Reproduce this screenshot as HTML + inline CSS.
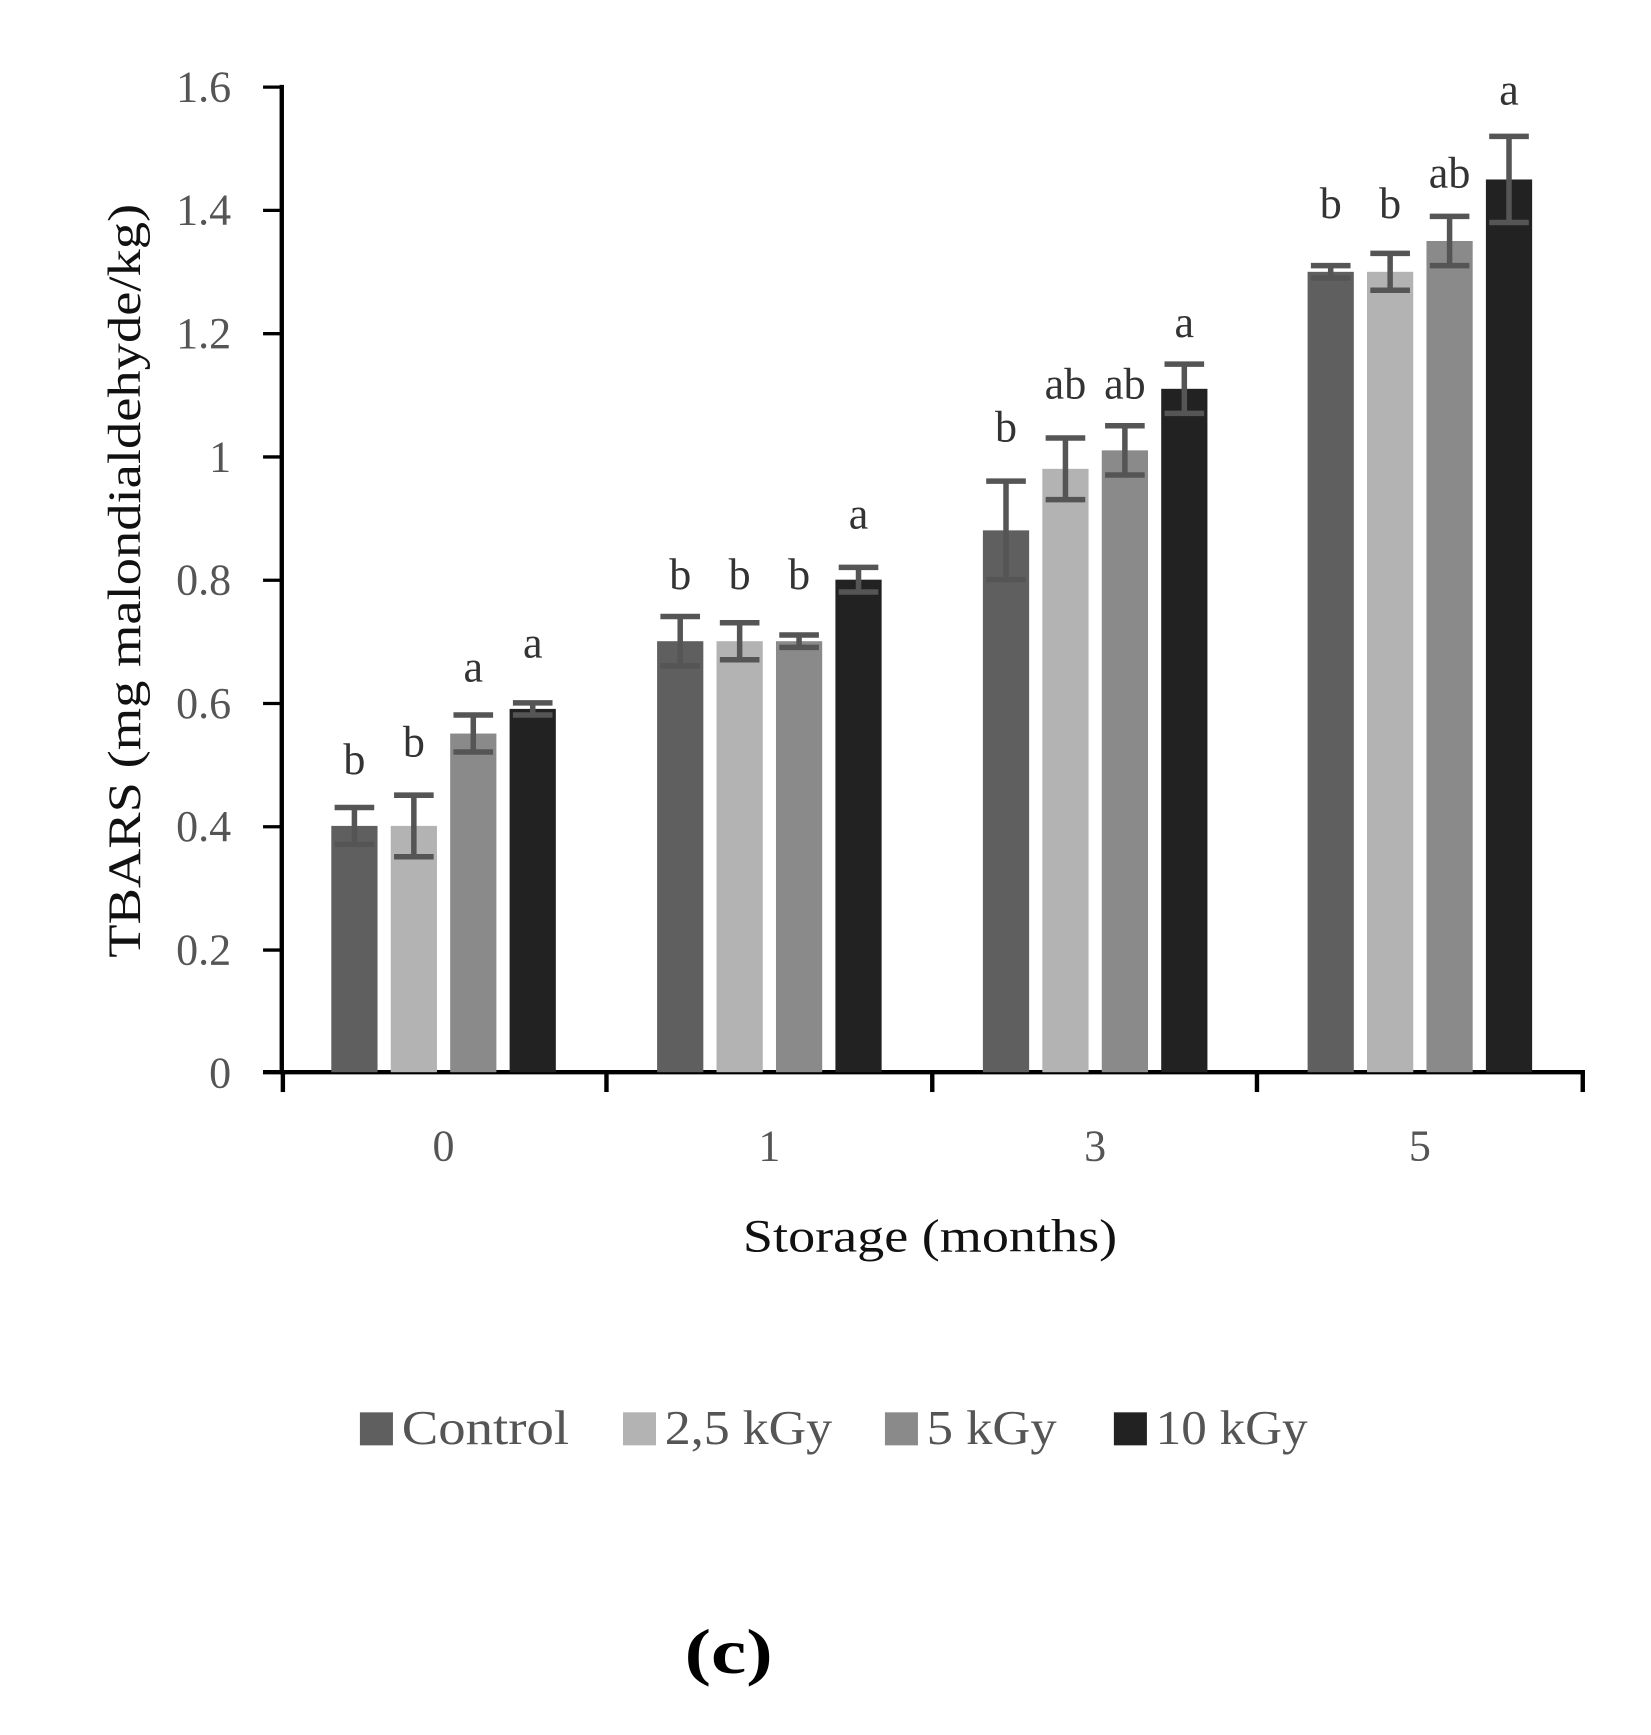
<!DOCTYPE html>
<html><head><style>html,body{margin:0;padding:0;background:#fff}svg{display:block}</style></head>
<body>
<svg width="1651" height="1735" viewBox="0 0 1500 1576" xmlns="http://www.w3.org/2000/svg" font-family="Liberation Serif, serif">
<g fill="#555" font-size="40" text-anchor="end">
<text x="210" y="988">0</text><text x="210" y="876">0.2</text><text x="210" y="764">0.4</text><text x="210" y="652">0.6</text><text x="210" y="540">0.8</text><text x="210" y="428">1</text><text x="210" y="316">1.2</text><text x="210" y="204">1.4</text><text x="210" y="92">1.6</text>
</g>
<g stroke="#000" stroke-width="4">
<line x1="256" y1="77" x2="256" y2="976"/>
<g stroke-width="3"><line x1="239" y1="79" x2="256" y2="79"/><line x1="239" y1="191" x2="256" y2="191"/><line x1="239" y1="303" x2="256" y2="303"/><line x1="239" y1="415" x2="256" y2="415"/><line x1="239" y1="527" x2="256" y2="527"/><line x1="239" y1="639" x2="256" y2="639"/><line x1="239" y1="751" x2="256" y2="751"/><line x1="239" y1="863" x2="256" y2="863"/><line x1="239" y1="974" x2="256" y2="974"/></g>
<line x1="239" y1="974" x2="1440" y2="974"/>
<line x1="257" y1="974" x2="257" y2="992"/><line x1="551" y1="974" x2="551" y2="992"/><line x1="847" y1="974" x2="847" y2="992"/><line x1="1142" y1="974" x2="1142" y2="992"/><line x1="1438" y1="974" x2="1438" y2="992"/>
</g>
<g>
<rect x="301" y="750.2" width="42" height="223.8" fill="#5f5f5f"/><rect x="355" y="750.2" width="42" height="223.8" fill="#b3b3b3"/><rect x="409" y="666.3" width="42" height="307.7" fill="#8a8a8a"/><rect x="463" y="643.9" width="42" height="330.1" fill="#222"/>
<rect x="597" y="582.4" width="42" height="391.6" fill="#5f5f5f"/><rect x="651" y="582.4" width="42" height="391.6" fill="#b3b3b3"/><rect x="705" y="582.4" width="42" height="391.6" fill="#8a8a8a"/><rect x="759" y="526.5" width="42" height="447.5" fill="#222"/>
<rect x="893" y="481.7" width="42" height="492.3" fill="#5f5f5f"/><rect x="947" y="425.8" width="42" height="548.2" fill="#b3b3b3"/><rect x="1001" y="409" width="42" height="565" fill="#8a8a8a"/><rect x="1055" y="353.1" width="42" height="620.9" fill="#222"/>
<rect x="1188" y="246.8" width="42" height="727.2" fill="#5f5f5f"/><rect x="1242" y="246.8" width="42" height="727.2" fill="#b3b3b3"/><rect x="1296" y="218.8" width="42" height="755.2" fill="#8a8a8a"/><rect x="1350" y="162.9" width="42" height="811.1" fill="#222"/>
</g>
<g stroke="#555" stroke-width="5" fill="none">
<path d="M322 733.5V767M304 733.5H340M304 767H340"/>
<path d="M376 722.3V778.2M358 722.3H394M358 778.2H394"/>
<path d="M430 649.5V683.1M412 649.5H448M412 683.1H448"/>
<path d="M484 638.4V649.5M466 638.4H502M466 649.5H502"/>
<path d="M618 560V604.8M600 560H636M600 604.8H636"/>
<path d="M672 565.6V599.2M654 565.6H690M654 599.2H690"/>
<path d="M726 576.8V588M708 576.8H744M708 588H744"/>
<path d="M780 515.3V537.7M762 515.3H798M762 537.7H798"/>
<path d="M914 437V526.5M896 437H932M896 526.5H932"/>
<path d="M968 397.8V453.8M950 397.8H986M950 453.8H986"/>
<path d="M1022 386.6V431.4M1004 386.6H1040M1004 431.4H1040"/>
<path d="M1076 330.7V375.4M1058 330.7H1094M1058 375.4H1094"/>
<path d="M1209 241.2V252.4M1191 241.2H1227M1191 252.4H1227"/>
<path d="M1263 230V263.6M1245 230H1281M1245 263.6H1281"/>
<path d="M1317 196.4V241.2M1299 196.4H1335M1299 241.2H1335"/>
<path d="M1371 123.7V202M1353 123.7H1389M1353 202H1389"/>
</g>
<g fill="#333" font-size="40" text-anchor="middle">
<text x="322" y="703">b</text><text x="376" y="687">b</text><text x="430" y="619">a</text><text x="484" y="597">a</text>
<text x="618" y="535">b</text><text x="672" y="535">b</text><text x="726" y="535">b</text><text x="780" y="480">a</text>
<text x="914" y="401">b</text><text x="968" y="362">ab</text><text x="1022" y="362">ab</text><text x="1076" y="306">a</text>
<text x="1209" y="198">b</text><text x="1263" y="198">b</text><text x="1317" y="170">ab</text><text x="1371" y="95">a</text>
</g>
<g fill="#555" font-size="40" text-anchor="middle">
<text x="403" y="1054">0</text><text x="699" y="1054">1</text><text x="995" y="1054">3</text><text x="1290" y="1054">5</text>
</g>
<text x="675" y="1137" font-size="42" textLength="340" lengthAdjust="spacingAndGlyphs" fill="#111">Storage (months)</text>
<text transform="translate(127,870) rotate(-90)" font-size="42" textLength="685" lengthAdjust="spacingAndGlyphs" fill="#111">TBARS (mg  malondialdehyde/kg)</text>
<g font-size="44" fill="#555">
<rect x="327" y="1283" width="30" height="30" fill="#5f5f5f"/><text x="365" y="1312" textLength="152" lengthAdjust="spacingAndGlyphs">Control</text>
<rect x="566" y="1283" width="30" height="30" fill="#b3b3b3"/><text x="604" y="1312" textLength="152" lengthAdjust="spacingAndGlyphs">2,5 kGy</text>
<rect x="804" y="1283" width="30" height="30" fill="#8a8a8a"/><text x="842" y="1312" textLength="118" lengthAdjust="spacingAndGlyphs">5 kGy</text>
<rect x="1012" y="1283" width="30" height="30" fill="#222"/><text x="1050" y="1312" textLength="138" lengthAdjust="spacingAndGlyphs">10 kGy</text>
</g>
<text x="622" y="1520" font-size="58" font-weight="bold" textLength="80" lengthAdjust="spacingAndGlyphs" fill="#000">(c)</text>
</svg>
</body></html>
